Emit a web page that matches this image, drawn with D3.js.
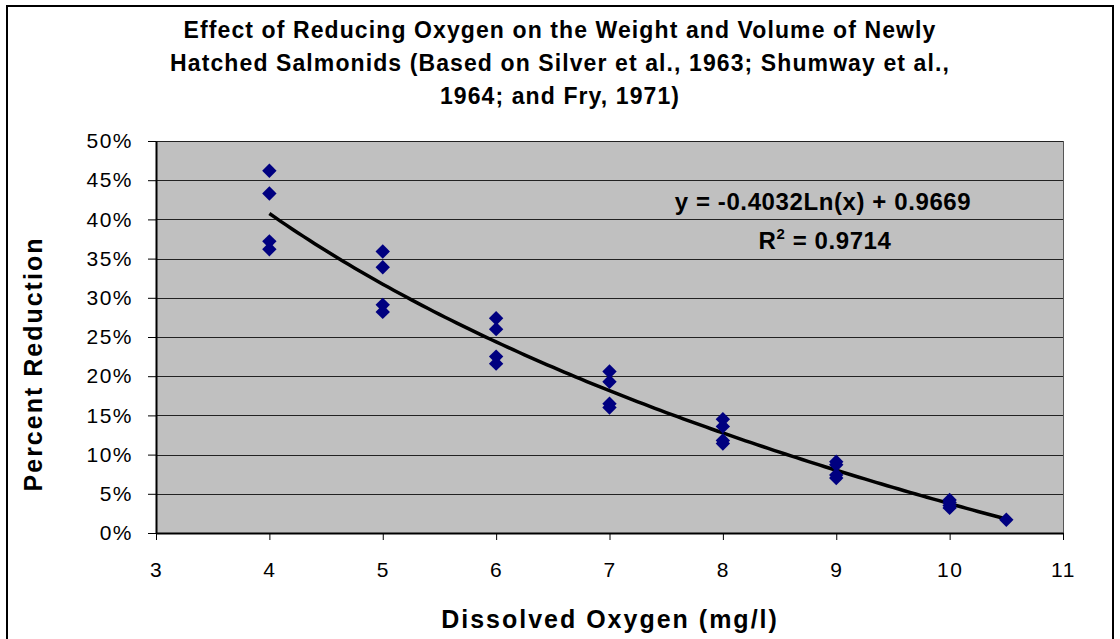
<!DOCTYPE html>
<html lang="en">
  <head>
    <meta charset="utf-8">
    <title>Effect of Reducing Oxygen on Salmonids</title>
    <script src="https://d3js.org/d3.v7.min.js"></script>
    <style type="text/css">
      body,html{
        margin: 0;
        padding: 0;
        background: #fff;
        font-family: Arial, "Liberation Sans", sans-serif;
      }
    </style>
  </head>
  <body>
    <script type="text/javascript">

      var w = 1120;
      var h = 639;

      // dissolved oxygen (mg/l) and percent reduction
      var oxygen = [4, 4, 4, 4, 5, 5, 5, 5, 6, 6, 6, 6, 7, 7, 7, 7, 8, 8, 8, 8, 9, 9, 9, 9, 10, 10, 10, 10, 10.5];
      var reduction = [0.462, 0.433, 0.372, 0.362, 0.359, 0.339, 0.291, 0.282, 0.274, 0.260, 0.225, 0.216,
                       0.206, 0.193, 0.165, 0.160, 0.145, 0.136, 0.118, 0.114, 0.091, 0.087, 0.074, 0.070,
                       0.042, 0.039, 0.035, 0.032, 0.017];

      var xTicks = [3, 4, 5, 6, 7, 8, 9, 10, 11];
      var yTicks = [0, 0.05, 0.1, 0.15, 0.2, 0.25, 0.3, 0.35, 0.4, 0.45, 0.5];

      var titleLines = [
        "Effect of Reducing Oxygen on the Weight and Volume of Newly",
        "Hatched Salmonids (Based on Silver et al., 1963; Shumway et al.,",
        "1964; and Fry, 1971)"
      ];
      var eqText = "y = -0.4032Ln(x) + 0.9669";
      var r2Text = "0.9714";

      var margin = {top: 141, right: 57, bottom: 106, left: 156};
      var width = w - margin.left - margin.right;
      var height = h - margin.top - margin.bottom;

      var svg = d3.select("body")
        .append("svg")
        .attr("width", w)
        .attr("height", h);

      // outer chart frame
      svg.append("rect")
        .attr("x", 7).attr("y", 6)
        .attr("width", 1106).attr("height", 660)
        .attr("fill", "#fff")
        .attr("stroke", "#000")
        .attr("stroke-width", 2);

      svg.append("g")
        .selectAll("text")
        .data(titleLines)
        .enter()
        .append("text")
        .attr("x", 560)
        .attr("y", function(d, i){ return 38 + i * 33; })
        .attr("text-anchor", "middle")
        .style("font-weight", "bold")
        .style("font-size", "23px")
        .style("letter-spacing", "1.1px")
        .text(function(d){ return d; });

      var x = d3.scaleLinear().domain([3, 11]).range([0, width]);
      var y = d3.scaleLinear().domain([0, 0.5]).range([height, 0]);

      var g = svg.append("g")
        .attr("transform", "translate(" + margin.left + "," + margin.top + ")");

      g.append("rect")
        .attr("width", width)
        .attr("height", height)
        .attr("fill", "#c0c0c0");

      // gridlines
      g.selectAll("line.grid")
        .data(yTicks.slice(1))
        .enter()
        .append("line")
        .attr("class", "grid")
        .attr("x1", 0).attr("x2", width)
        .attr("y1", function(d){ return Math.round(y(d)) + 0.5; })
        .attr("y2", function(d){ return Math.round(y(d)) + 0.5; })
        .attr("stroke", "#222")
        .attr("stroke-width", 1);

      // right edge of plot
      g.append("line")
        .attr("x1", width + 0.5).attr("x2", width + 0.5)
        .attr("y1", 0).attr("y2", height)
        .attr("stroke", "#555");

      var xAxis = g.append("g")
        .attr("transform", "translate(0," + height + ")")
        .call(d3.axisBottom(x).tickValues(xTicks).tickSize(7).tickSizeOuter(0).tickPadding(22));

      var yAxis = g.append("g")
        .call(d3.axisLeft(y).tickValues(yTicks).tickSize(8).tickSizeOuter(0).tickPadding(15)
          .tickFormat(d3.format(".0%")));

      [xAxis, yAxis].forEach(function(a){
        a.selectAll("text")
          .style("font-family", "Arial, 'Liberation Sans', sans-serif")
          .style("font-size", "21px")
          .style("letter-spacing", "1.5px")
          .attr("fill", "#000");
        a.selectAll(".tick line").attr("stroke", "#000");
        a.select(".domain").attr("stroke", "#000").attr("stroke-width", 2);
      });

      // log trendline fitted from the points
      var lx = oxygen.map(function(v){ return Math.log(v); });
      var mx = d3.mean(lx), my = d3.mean(reduction);
      var sxy = d3.sum(lx, function(v, i){ return (v - mx) * (reduction[i] - my); });
      var sxx = d3.sum(lx, function(v){ return (v - mx) * (v - mx); });
      var slope = sxy / sxx;
      var intercept = my - slope * mx;

      var xs = d3.range(4, 10.5001, 0.05);
      var line = d3.line()
        .x(function(d){ return x(d); })
        .y(function(d){ return y(slope * Math.log(d) + intercept); });

      g.append("path")
        .datum(xs)
        .attr("d", line)
        .attr("fill", "none")
        .attr("stroke", "#000")
        .attr("stroke-width", 3.5);

      var diamond = d3.symbol().type(d3.symbolSquare).size(104);

      g.selectAll("path.pt")
        .data(oxygen)
        .enter()
        .append("path")
        .attr("class", "pt")
        .attr("d", diamond)
        .attr("transform", function(d, i){
          return "translate(" + x(d) + "," + y(reduction[i]) + ") rotate(45)";
        })
        .attr("fill", "#000080");

      // equation labels
      g.append("text")
        .attr("x", 667)
        .attr("y", 69)
        .attr("text-anchor", "middle")
        .style("font-weight", "bold")
        .style("font-size", "24px")
        .style("letter-spacing", "0.6px")
        .text(eqText);

      var r2 = g.append("text")
        .attr("x", 669)
        .attr("y", 108)
        .attr("text-anchor", "middle")
        .style("font-weight", "bold")
        .style("font-size", "24px")
        .style("letter-spacing", "0.6px");
      r2.append("tspan").text("R");
      r2.append("tspan").attr("dy", -10).style("font-size", "15px").text("2");
      r2.append("tspan").attr("dy", 10).text(" = " + r2Text);

      // axis titles
      svg.append("text")
        .attr("x", 610)
        .attr("y", 628)
        .attr("text-anchor", "middle")
        .style("font-weight", "bold")
        .style("font-size", "25px")
        .style("letter-spacing", "2px")
        .text("Dissolved Oxygen (mg/l)");

      svg.append("text")
        .attr("transform", "translate(42,364) rotate(-90)")
        .attr("text-anchor", "middle")
        .style("font-weight", "bold")
        .style("font-size", "25px")
        .style("letter-spacing", "2px")
        .text("Percent Reduction");

    </script>
  </body>
</html>
